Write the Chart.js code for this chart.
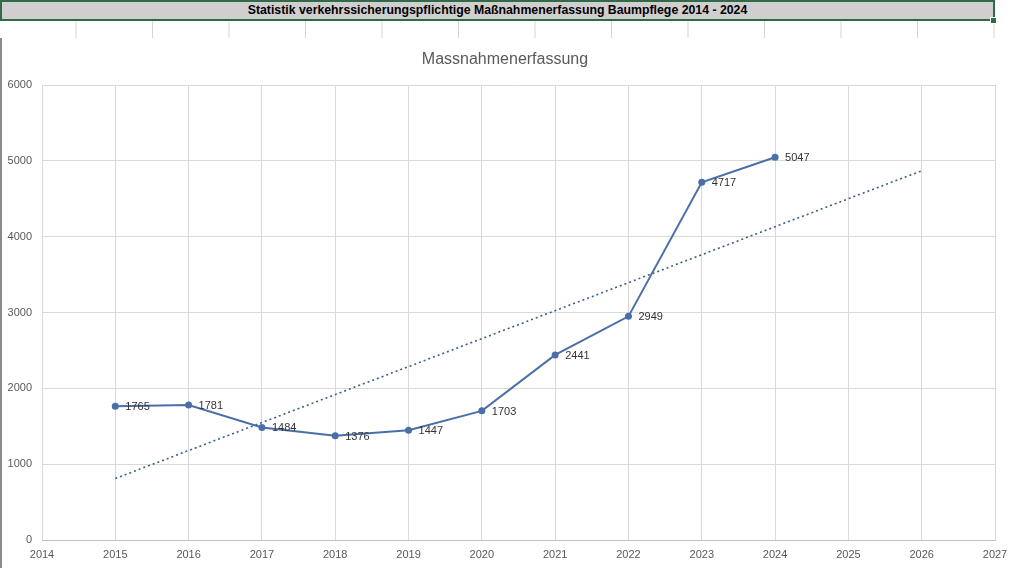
<!DOCTYPE html>
<html>
<head>
<meta charset="utf-8">
<script src="https://cdn.jsdelivr.net/npm/chart.js@4/dist/chart.umd.min.js"></script>
<style>
  body { margin: 0; background: #fff; width: 1010px; height: 568px; overflow: hidden; position: relative; font-family: "Liberation Sans", Arial, sans-serif; }
  #banner { position: absolute; left: 0; top: 0; width: 991px; height: 17px; background: #d0cece; border: 2px solid #2f6b47; text-align: center; font-weight: bold; font-size: 12.3px; line-height: 17px; color: #000; }
  #handle { position: absolute; left: 990px; top: 17px; width: 5px; height: 5px; background: #2f6b47; border: 1px solid #fff; }
  #cells { position: absolute; left: 0; top: 21px; width: 1010px; height: 17px; border-bottom: 1px solid #d4d4d4;
    background: repeating-linear-gradient(to right, transparent 0, transparent 76px, #d4d4d4 76px, #d4d4d4 77px); background-size: 76.5px 100%; }
  #wrap { position: absolute; left: 0; top: 38px; width: 1010px; height: 530px; background: #fff; }
  #edge { position: absolute; left: 0; top: 38px; width: 2px; height: 530px; background: #8a8a8a; }
</style>
</head>
<body>
<div id="cells"></div>
<div id="banner">Statistik verkehrssicherungspflichtige Maßnahmenerfassung Baumpflege 2014 - 2024</div>
<div id="handle"></div>
<div id="wrap"><canvas id="chart"></canvas></div>
<div id="edge"></div>
<script>
// values
var years = [2015, 2016, 2017, 2018, 2019, 2020, 2021, 2022, 2023, 2024];
var counts = [1765, 1781, 1484, 1376, 1447, 1703, 2441, 2949, 4717, 5047];

// linear trendline end points as drawn in the reference
var trendYears = [2015, 2026];
var trendValues = [811, 4869];

var xMin = 2014, xMax = 2027;
var yMin = 0, yMax = 6000, yStep = 1000;

var textGray = '#595959';
var gridGray = '#d9d9d9';
var lineBlue = '#4a6fa8';

// little plugin to put the value next to each point
var valueLabels = {
  id: 'valueLabels',
  afterDatasetsDraw: function(chart) {
    var ctx = chart.ctx;
    var meta = chart.getDatasetMeta(0);
    ctx.save();
    ctx.font = '11px "Liberation Sans", Arial, sans-serif';
    ctx.fillStyle = '#333333';
    ctx.textAlign = 'left';
    ctx.textBaseline = 'middle';
    meta.data.forEach(function(pt, i) {
      ctx.fillText(String(counts[i]), pt.x + 10, pt.y + 1);
    });
    ctx.restore();
  }
};

var ctx = document.getElementById('chart').getContext('2d');
var chart = new Chart(ctx, {
  type: 'line',
  data: {
    datasets: [{
      label: 'Massnahmen',
      data: years.map(function(y, i) { return { x: y, y: counts[i] }; }),
      borderColor: lineBlue,
      backgroundColor: lineBlue,
      borderWidth: 2,
      pointRadius: 3.5,
      pointBackgroundColor: lineBlue,
      pointBorderWidth: 0,
      tension: 0
    }, {
      label: 'Trend',
      data: trendYears.map(function(y, i) { return { x: y, y: trendValues[i] }; }),
      borderColor: '#3d5f80',
      borderWidth: 1.6,
      borderDash: [2, 3],
      pointRadius: 0,
      tension: 0
    }]
  },
  options: {
    responsive: true,
    maintainAspectRatio: false,
    animation: false,
    layout: { padding: 0 },
    plugins: {
      legend: { display: false },
      tooltip: { enabled: false },
      title: {
        display: true,
        text: 'Massnahmenerfassung',
        color: textGray,
        font: { family: '"Liberation Sans", Arial, sans-serif', size: 16, weight: 'normal', lineHeight: 1.2 },
        padding: { top: 11.5, bottom: 16.3 }
      }
    },
    scales: {
      x: {
        type: 'linear',
        min: xMin,
        max: xMax,
        afterFit: function(s) { s.height = 28; s.paddingLeft = 0; s.paddingRight = 15; },
        ticks: {
          stepSize: 1,
          color: textGray,
          font: { family: '"Liberation Sans", Arial, sans-serif', size: 11 },
          padding: 8,
          maxRotation: 0,
          callback: function(v) { return String(v); }
        },
        grid: { color: gridGray, drawTicks: false },
        border: { color: '#bfbfbf' }
      },
      y: {
        min: yMin,
        max: yMax,
        afterFit: function(s) { s.width = 42; },
        ticks: {
          stepSize: yStep,
          color: textGray,
          font: { family: '"Liberation Sans", Arial, sans-serif', size: 11 },
          padding: 10,
          callback: function(v) { return String(v); }
        },
        grid: { color: gridGray, drawTicks: false },
        border: { display: false }
      }
    }
  },
  plugins: [valueLabels]
});
</script>
</body>
</html>
